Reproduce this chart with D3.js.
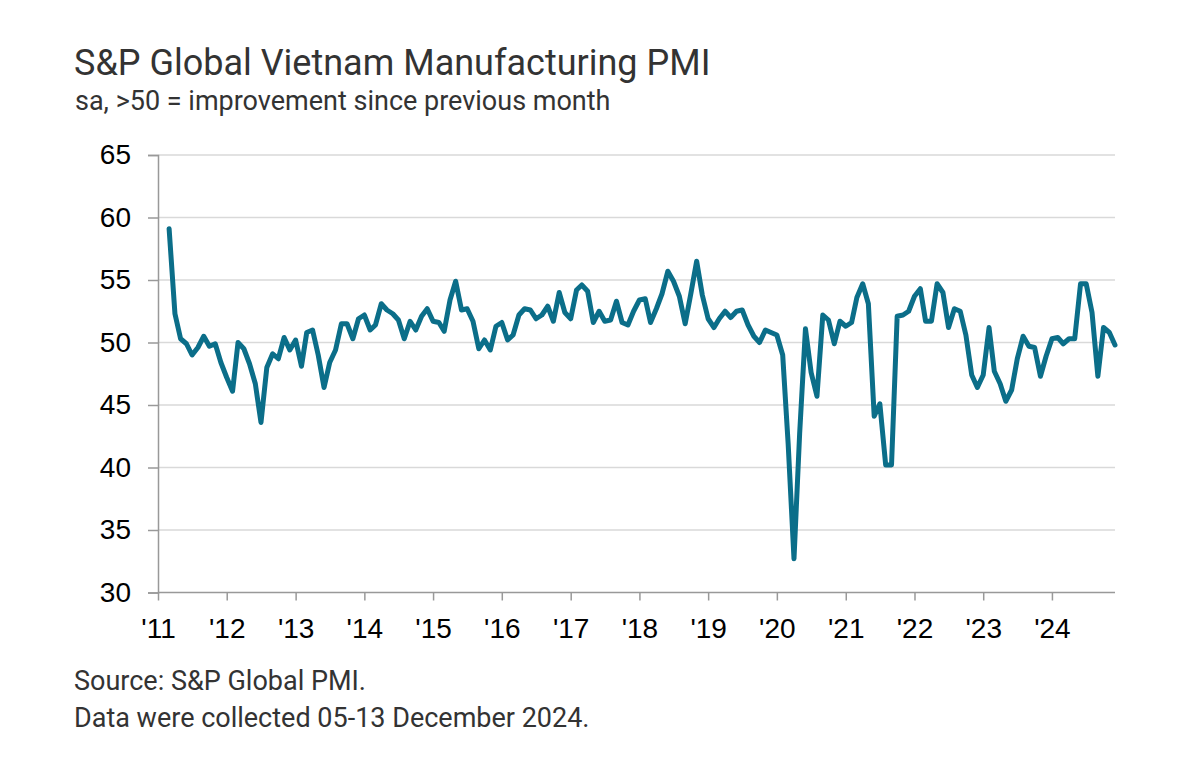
<!DOCTYPE html>
<html>
<head>
<meta charset="utf-8">
<script src="https://cdn.jsdelivr.net/npm/d3@7"></script>
<style>
  html, body { margin: 0; padding: 0; background: #ffffff; }
  svg { display: block; }
</style>
</head>
<body>
<svg id="chart" width="1200" height="761"></svg>
<script>
const startYear = 2011;
const startMonth = 2; // March (0-based)
const pmi2011 = [59.1, 52.3, 50.3, 49.9, 49.0, 49.6, 50.5, 49.7, 49.9, 48.4];
const pmi2012 = [47.2, 46.1, 50.0, 49.5, 48.3, 46.7, 43.6, 48.0, 49.1, 48.7, 50.4, 49.4];
const pmi2013 = [50.2, 48.1, 50.8, 51.0, 49.0, 46.4, 48.4, 49.4, 51.5, 51.5, 50.3, 51.9];
const pmi2014 = [52.2, 51.0, 51.4, 53.1, 52.6, 52.3, 51.8, 50.3, 51.7, 51.0, 52.1, 52.7];
const pmi2015 = [51.7, 51.6, 50.9, 53.4, 54.9, 52.6, 52.7, 51.7, 49.5, 50.2, 49.4, 51.3];
const pmi2016 = [51.6, 50.2, 50.6, 52.2, 52.7, 52.6, 51.9, 52.2, 52.9, 51.7, 54.0, 52.4];
const pmi2017 = [51.9, 54.2, 54.6, 54.1, 51.6, 52.5, 51.7, 51.8, 53.3, 51.6, 51.4, 52.5];
const pmi2018 = [53.4, 53.5, 51.6, 52.7, 53.9, 55.7, 54.9, 53.7, 51.5, 53.9, 56.5, 53.8];
const pmi2019 = [51.9, 51.2, 51.9, 52.5, 52.0, 52.5, 52.6, 51.4, 50.5, 50.0, 51.0, 50.8];
const pmi2020 = [50.6, 49.0, 41.9, 32.7, 42.7, 51.1, 47.6, 45.7, 52.2, 51.8, 49.9, 51.7];
const pmi2021 = [51.3, 51.6, 53.6, 54.7, 53.1, 44.1, 45.1, 40.2, 40.2, 52.1, 52.2, 52.5];
const pmi2022 = [53.7, 54.3, 51.7, 51.7, 54.7, 54.0, 51.2, 52.7, 52.5, 50.6, 47.4, 46.4];
const pmi2023 = [47.4, 51.2, 47.7, 46.7, 45.3, 46.2, 48.7, 50.5, 49.7, 49.6, 47.3, 48.9];
const pmi2024 = [50.3, 50.4, 49.9, 50.3, 50.3, 54.7, 54.7, 52.4, 47.3, 51.2, 50.8, 49.8];

const yTicks = [30, 35, 40, 45, 50, 55, 60, 65];
const xTickYears = [2011, 2012, 2013, 2014, 2015, 2016, 2017, 2018, 2019, 2020, 2021, 2022, 2023, 2024];

const titleText = "S&P Global Vietnam Manufacturing PMI";
const subtitleText = "sa, >50 = improvement since previous month";
const sourceText = "Source: S&P Global PMI.";
const noteText = "Data were collected 05-13 December 2024.";

const values = [].concat(pmi2011, pmi2012, pmi2013, pmi2014, pmi2015, pmi2016, pmi2017,
  pmi2018, pmi2019, pmi2020, pmi2021, pmi2022, pmi2023, pmi2024);
const data = values.map((v, i) => ({ date: new Date(startYear, startMonth + i, 1), value: v }));

const svg = d3.select("#chart");
const plotLeft = 158, plotRight = 1115, plotTop = 155, plotBottom = 592.5;

const x = d3.scaleTime()
  .domain([new Date(2011, 0, 1), new Date(2024, 11, 1)])
  .range([plotLeft, plotRight]);
const y = d3.scaleLinear().domain([30, 65]).range([plotBottom, plotTop]);

const textFont = "Roboto, 'Open Sans', sans-serif";
const axisFont = "'Liberation Sans', Arial, sans-serif";

// Title / subtitle
svg.append("text").attr("x", 74).attr("y", 75)
  .attr("font-family", textFont).attr("font-size", 36).attr("fill", "#333333")
  .text(titleText);
svg.append("text").attr("x", 75).attr("y", 110)
  .attr("font-family", textFont).attr("font-size", 27).attr("fill", "#333333")
  .text(subtitleText);

// Gridlines
svg.append("g").selectAll("line").data(yTicks.filter(t => t > 30)).join("line")
  .attr("x1", plotLeft).attr("x2", plotRight)
  .attr("y1", d => y(d)).attr("y2", d => y(d))
  .attr("stroke", "#d9d9d9").attr("stroke-width", 1.5);

// Y axis
const yAxis = svg.append("g").attr("transform", `translate(${plotLeft},0)`)
  .call(d3.axisLeft(y).tickValues(yTicks).tickSize(10).tickPadding(17).tickFormat(d3.format("d")));
yAxis.select(".domain").attr("stroke", "#999999").attr("stroke-width", 1.5);
yAxis.selectAll(".tick line").attr("stroke", "#999999").attr("stroke-width", 1.5);
yAxis.selectAll(".tick text").attr("font-family", axisFont).attr("font-size", 28).attr("fill", "#000000");

// X axis
const xAxis = svg.append("g").attr("transform", `translate(0,${plotBottom})`)
  .call(d3.axisBottom(x).tickValues(xTickYears.map(yv => new Date(yv, 0, 1)))
    .tickSize(8).tickPadding(18).tickFormat(d3.timeFormat("'%y")));
xAxis.select(".domain").attr("stroke", "#999999").attr("stroke-width", 1.5)
  .attr("d", `M${plotLeft},0H${plotRight}`);
xAxis.selectAll(".tick line").attr("stroke", "#999999").attr("stroke-width", 1.5);
xAxis.selectAll(".tick text").attr("font-family", axisFont).attr("font-size", 28)
  .attr("fill", "#000000");

// Line
const line = d3.line().x(d => x(d.date)).y(d => y(d.value)).curve(d3.curveLinear);
svg.append("path").datum(data)
  .attr("d", line)
  .attr("fill", "none")
  .attr("stroke", "#0b6e89")
  .attr("stroke-width", 5)
  .attr("stroke-linejoin", "round")
  .attr("stroke-linecap", "round");

// Footer
svg.append("text").attr("x", 74).attr("y", 690)
  .attr("font-family", textFont).attr("font-size", 27).attr("fill", "#333333")
  .text(sourceText);
svg.append("text").attr("x", 74).attr("y", 727)
  .attr("font-family", textFont).attr("font-size", 27).attr("fill", "#333333")
  .text(noteText);
</script>
</body>
</html>
